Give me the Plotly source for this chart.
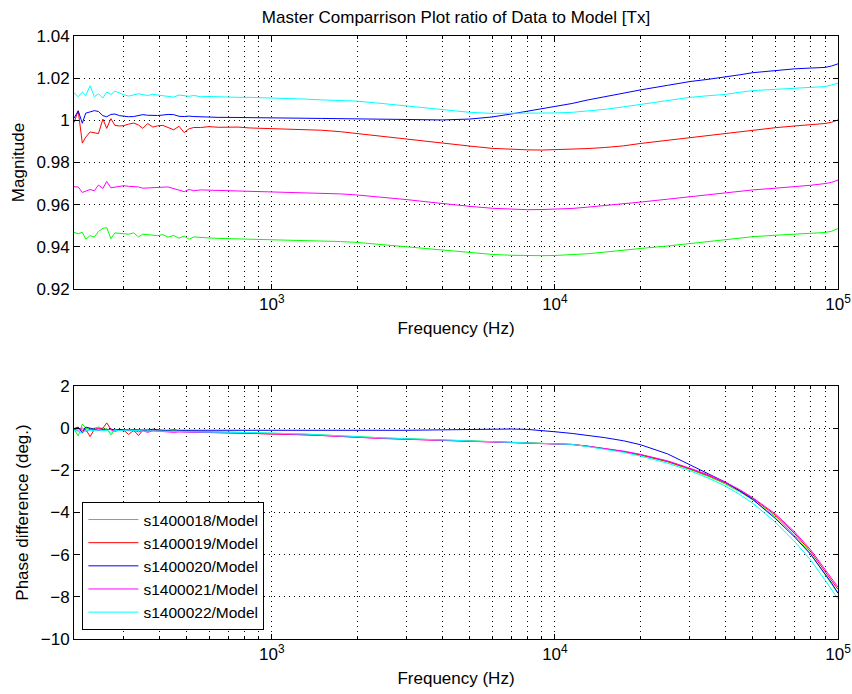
import plotly.graph_objects as go
from plotly.subplots import make_subplots

freq = [200, 207, 214, 220, 228, 236, 244, 253, 261, 270, 279, 290, 300, 312, 325, 338, 350, 364,
        380, 395, 412, 430, 450, 470, 490, 510, 530, 560, 600, 650, 700, 760, 830, 910, 1000,
        1150, 1300, 1500, 1750, 2000, 2450, 3000, 3500, 4000, 5000, 6000, 7000, 8000, 9000, 10000,
        11500, 13000, 15000, 17500, 20000, 25000, 30000, 35000, 40000, 45000, 50000, 60000, 70000,
        80000, 90000, 95000, 100000]

series_names = ["s1400018/Model", "s1400019/Model", "s1400020/Model", "s1400021/Model", "s1400022/Model"]
series_colors = ["#00ff00", "#ff0000", "#0000ff", "#ff00ff", "#00ffff"]

mag_18 = [0.9469, 0.9462, 0.9469, 0.9436, 0.9453, 0.9447, 0.9473, 0.9488, 0.9491, 0.9439, 0.9466, 0.9463,
          0.9460, 0.9460, 0.9466, 0.9447, 0.9460, 0.9457, 0.9456, 0.9453, 0.9458, 0.9446, 0.9454, 0.9441,
          0.9451, 0.9436, 0.9447, 0.9444, 0.9442, 0.9440, 0.9439, 0.9438, 0.9437, 0.9436, 0.9436,
          0.9434, 0.9432, 0.9429, 0.9425, 0.9421, 0.9410, 0.9399, 0.9391, 0.9383, 0.9371, 0.9364, 0.9360,
          0.9358, 0.9358, 0.9359, 0.9362, 0.9367, 0.9375, 0.9385, 0.9392, 0.9404, 0.9416, 0.9425, 0.9432,
          0.9440, 0.9448, 0.9455, 0.9460, 0.9464, 0.9468, 0.9474, 0.9487]
mag_19 = [0.9990, 1.0045, 0.9892, 0.9920, 0.9945, 0.9940, 0.9937, 1.0006, 0.9962, 1.0008, 0.9976, 0.9973,
          0.9975, 0.9982, 0.9987, 0.9978, 0.9962, 0.9985, 0.9968, 0.9974, 0.9976, 0.9966, 0.9955, 0.9972,
          0.9942, 0.9960, 0.9966, 0.9966, 0.9970, 0.9967, 0.9968, 0.9968, 0.9964, 0.9962, 0.9960,
          0.9958, 0.9956, 0.9953, 0.9946, 0.9937, 0.9925, 0.9912, 0.9901, 0.9891, 0.9878, 0.9867, 0.9862,
          0.9860, 0.9859, 0.9860, 0.9863, 0.9866, 0.9871, 0.9879, 0.9890, 0.9905, 0.9919, 0.9929, 0.9938,
          0.9946, 0.9954, 0.9965, 0.9973, 0.9979, 0.9985, 0.9991, 1.0002]
mag_20 = [1.0010, 1.0045, 0.9986, 1.0034, 1.0040, 1.0046, 1.0042, 1.0022, 1.0017, 1.0028, 1.0030, 1.0022,
          1.0020, 1.0017, 1.0018, 1.0022, 1.0027, 1.0024, 1.0022, 1.0023, 1.0025, 1.0028, 1.0027, 1.0019,
          1.0018, 1.0020, 1.0018, 1.0016, 1.0016, 1.0014, 1.0014, 1.0013, 1.0012, 1.0012, 1.0012,
          1.0011, 1.0010, 1.0009, 1.0008, 1.0006, 1.0003, 1.0002, 1.0002, 1.0002, 1.0006, 1.0016, 1.0030,
          1.0043, 1.0053, 1.0064, 1.0080, 1.0096, 1.0113, 1.0130, 1.0144, 1.0166, 1.0184, 1.0195, 1.0205,
          1.0216, 1.0226, 1.0236, 1.0244, 1.0248, 1.0251, 1.0258, 1.0268]
mag_21 = [0.9685, 0.9684, 0.9658, 0.9665, 0.9672, 0.9666, 0.9693, 0.9677, 0.9710, 0.9680, 0.9684, 0.9686,
          0.9690, 0.9687, 0.9685, 0.9684, 0.9678, 0.9680, 0.9680, 0.9682, 0.9683, 0.9684, 0.9676, 0.9670,
          0.9662, 0.9672, 0.9666, 0.9670, 0.9669, 0.9668, 0.9665, 0.9664, 0.9662, 0.9661, 0.9660,
          0.9659, 0.9657, 0.9655, 0.9651, 0.9646, 0.9636, 0.9624, 0.9614, 0.9605, 0.9592, 0.9583, 0.9578,
          0.9576, 0.9577, 0.9579, 0.9582, 0.9588, 0.9595, 0.9604, 0.9612, 0.9626, 0.9638, 0.9646, 0.9654,
          0.9662, 0.9670, 0.9678, 0.9685, 0.9692, 0.9700, 0.9706, 0.9717]
mag_22 = [1.0130, 1.0112, 1.0134, 1.0118, 1.0164, 1.0112, 1.0126, 1.0106, 1.0134, 1.0123, 1.0139, 1.0128,
          1.0121, 1.0115, 1.0121, 1.0126, 1.0122, 1.0118, 1.0123, 1.0120, 1.0117, 1.0114, 1.0110, 1.0120,
          1.0116, 1.0114, 1.0118, 1.0112, 1.0113, 1.0111, 1.0110, 1.0109, 1.0109, 1.0108, 1.0107,
          1.0105, 1.0101, 1.0097, 1.0094, 1.0091, 1.0080, 1.0068, 1.0058, 1.0049, 1.0038, 1.0033, 1.0033,
          1.0034, 1.0035, 1.0035, 1.0038, 1.0043, 1.0052, 1.0064, 1.0076, 1.0094, 1.0109, 1.0117, 1.0123,
          1.0133, 1.0141, 1.0147, 1.0152, 1.0156, 1.0160, 1.0168, 1.0176]

ph_18 = [-0.05, -0.37, 0.20, 0.00, -0.05, 0.00, 0.05, -0.05, -0.02, -0.32, -0.05, -0.08, -0.10, -0.05,
         -0.15, -0.10, -0.12, -0.05, -0.10, -0.12, -0.10, -0.12, -0.10, -0.15, -0.12, -0.14, -0.14, -0.15,
         -0.16, -0.17, -0.18, -0.19, -0.20, -0.21, -0.22,
         -0.25, -0.28, -0.32, -0.37, -0.42, -0.46, -0.50, -0.53, -0.56, -0.60, -0.63, -0.65, -0.68, -0.70,
         -0.73, -0.77, -0.86, -0.98, -1.12, -1.28, -1.60, -1.96, -2.30, -2.65, -3.02, -3.40, -4.20, -5.06,
         -5.95, -6.95, -7.40, -7.83]
ph_19 = [-0.05, 0.00, -0.10, -0.05, -0.40, -0.05, -0.02, 0.00, 0.25, -0.05, -0.10, -0.08, -0.10, -0.30,
         -0.10, -0.35, -0.10, -0.15, -0.12, -0.13, -0.15, -0.14, -0.16, -0.15, -0.18, -0.17, -0.18, -0.19,
         -0.20, -0.20, -0.21, -0.22, -0.23, -0.24, -0.25,
         -0.27, -0.30, -0.34, -0.39, -0.44, -0.48, -0.52, -0.55, -0.57, -0.61, -0.64, -0.66, -0.69, -0.71,
         -0.74, -0.77, -0.85, -0.97, -1.11, -1.26, -1.58, -1.93, -2.26, -2.60, -2.96, -3.33, -4.12, -4.97,
         -5.85, -6.80, -7.22, -7.65]
ph_20 = [-0.02, 0.05, -0.22, 0.05, 0.00, -0.05, -0.10, -0.05, -0.08, -0.04, -0.10, -0.06, -0.08, -0.10,
         -0.07, -0.09, -0.08, -0.10, -0.05, -0.08, -0.10, -0.10, -0.08, -0.10, -0.10, -0.11, -0.11, -0.12,
         -0.12, -0.12, -0.12, -0.12, -0.12, -0.13, -0.13,
         -0.13, -0.13, -0.12, -0.12, -0.12, -0.11, -0.10, -0.09, -0.08, -0.05, -0.04, -0.04, -0.06, -0.10,
         -0.17, -0.25, -0.33, -0.45, -0.60, -0.78, -1.22, -1.75, -2.18, -2.56, -2.98, -3.38, -4.28, -5.14,
         -5.98, -6.88, -7.35, -7.83]
ph_21 = [-0.05, -0.10, 0.02, -0.15, -0.05, -0.08, 0.00, -0.10, -0.05, -0.08, -0.15, -0.10, -0.12, -0.10,
         -0.08, -0.18, -0.12, -0.20, -0.12, -0.14, -0.16, -0.15, -0.20, -0.18, -0.17, -0.19, -0.20, -0.20,
         -0.21, -0.21, -0.22, -0.23, -0.24, -0.25, -0.26,
         -0.28, -0.31, -0.35, -0.40, -0.45, -0.49, -0.53, -0.56, -0.58, -0.62, -0.65, -0.67, -0.70, -0.72,
         -0.75, -0.78, -0.85, -0.96, -1.09, -1.24, -1.55, -1.90, -2.22, -2.56, -2.92, -3.30, -4.06, -4.90,
         -5.76, -6.70, -7.12, -7.54]
ph_22 = [-0.10, -0.15, -0.24, -0.10, -0.10, -0.12, -0.08, -0.12, -0.10, -0.20, -0.10, -0.12, -0.10, -0.13,
         -0.11, -0.10, -0.14, -0.12, -0.13, -0.14, -0.14, -0.15, -0.15, -0.16, -0.16, -0.17, -0.17, -0.18,
         -0.18, -0.19, -0.20, -0.21, -0.21, -0.22, -0.23,
         -0.25, -0.28, -0.32, -0.37, -0.42, -0.46, -0.50, -0.53, -0.56, -0.60, -0.63, -0.65, -0.68, -0.70,
         -0.73, -0.77, -0.87, -1.00, -1.15, -1.32, -1.66, -2.02, -2.38, -2.75, -3.15, -3.56, -4.45, -5.35,
         -6.25, -7.20, -7.65, -8.10]

mags = [mag_18, mag_19, mag_20, mag_21, mag_22]
phases = [ph_18, ph_19, ph_20, ph_21, ph_22]

mag_ticks = [0.92, 0.94, 0.96, 0.98, 1.00, 1.02, 1.04]
mag_ticktext = ["0.92", "0.94", "0.96", "0.98", "1", "1.02", "1.04"]
ph_ticks = [-10, -8, -6, -4, -2, 0, 2]
ph_ticktext = ["\u221210", "\u22128", "\u22126", "\u22124", "\u22122", "0", "2"]
x_ticks = [1000, 10000, 100000]
x_ticktext = ["10<sup>3</sup>", "10<sup>4</sup>", "10<sup>5</sup>"]
x_minor = [200, 300, 400, 500, 600, 700, 800, 900,
           2000, 3000, 4000, 5000, 6000, 7000, 8000, 9000,
           20000, 30000, 40000, 50000, 60000, 70000, 80000, 90000]

W, H = 852, 694
ML, MR, MT, MB = 74, 14, 36, 55
plot_h = H - MT - MB
FS = 17

fig = make_subplots(rows=2, cols=1, vertical_spacing=0.0)

for i in range(5):
    fig.add_trace(go.Scatter(x=freq, y=mags[i], mode="lines", name=series_names[i],
                             line=dict(color=series_colors[i], width=1), showlegend=False), row=1, col=1)
for i in range(5):
    fig.add_trace(go.Scatter(x=freq, y=phases[i], mode="lines", name=series_names[i],
                             line=dict(color=series_colors[i], width=1), showlegend=True), row=2, col=1)

font_family = "Liberation Sans, Arial, Helvetica, sans-serif"
grid_dash = "1px,4px"

common_x = dict(type="log", range=[2.30103, 5], tickmode="array", tickvals=x_ticks, ticktext=x_ticktext,
                ticks="inside", ticklen=5, tickcolor="black", showline=True, linecolor="black", linewidth=1,
                mirror="ticks", showgrid=True, gridcolor="black", gridwidth=1, griddash=grid_dash,
                zeroline=False, automargin=False,
                minor=dict(tickmode="array", tickvals=x_minor, ticks="inside", ticklen=3, tickcolor="black",
                           showgrid=True, gridcolor="black", gridwidth=1, griddash=grid_dash),
                tickfont=dict(size=FS, color="black"),
                title=dict(text="Frequency (Hz)", font=dict(size=FS, color="black"), standoff=8))
fig.update_xaxes(**common_x)

fig.update_yaxes(range=[0.92, 1.04], tickmode="array", tickvals=mag_ticks, ticktext=mag_ticktext,
                 ticks="inside", ticklen=5, tickcolor="black", showline=True, linecolor="black", linewidth=1,
                 mirror="ticks", showgrid=True, gridcolor="black", gridwidth=1, griddash=grid_dash,
                 zeroline=False, automargin=False, tickfont=dict(size=FS, color="black"),
                 title=dict(text="Magnitude", font=dict(size=FS, color="black"), standoff=7),
                 row=1, col=1)
fig.update_yaxes(range=[-10, 2], tickmode="array", tickvals=ph_ticks, ticktext=ph_ticktext,
                 ticks="inside", ticklen=5, tickcolor="black", showline=True, linecolor="black", linewidth=1,
                 mirror="ticks", showgrid=True, gridcolor="black", gridwidth=1, griddash=grid_dash,
                 zeroline=False, automargin=False, tickfont=dict(size=FS, color="black"),
                 title=dict(text="Phase difference (deg.)", font=dict(size=FS, color="black"), standoff=7),
                 row=2, col=1)

top_dom = [1 - 253 / plot_h, 1.0]
bot_dom = [0.0, 1 - 350 / plot_h]
fig.update_layout(yaxis=dict(domain=top_dom), yaxis2=dict(domain=bot_dom),
                  xaxis=dict(domain=[0, 1]), xaxis2=dict(domain=[0, 1]))

fig.update_layout(
    width=W, height=H,
    margin=dict(l=ML, r=MR, t=MT, b=MB, pad=0, autoexpand=False),
    paper_bgcolor="white", plot_bgcolor="white",
    font=dict(family=font_family, size=FS, color="black"),
    title=dict(text="Master Comparrison Plot ratio of Data to Model [Tx]", x=(ML + (W - ML - MR) / 2) / W,
               xanchor="center", y=1 - 17 / H, yanchor="middle", font=dict(size=FS, color="black")),
    legend=dict(x=0.011, y=0.015, xanchor="left", yanchor="bottom", bgcolor="white",
                bordercolor="black", borderwidth=1, font=dict(size=15.5, color="black"),
                tracegroupgap=0, itemwidth=50),
)

fig.write_html("out.html")
